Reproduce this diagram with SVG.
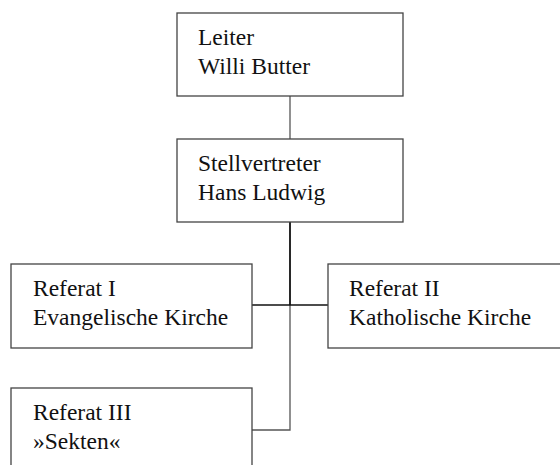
<svg xmlns="http://www.w3.org/2000/svg" width="560" height="465" viewBox="0 0 560 465">
<style>
.box{fill:#fff;stroke:#444;stroke-width:1.3}
.t{font-family:"Liberation Serif","Times New Roman",serif;font-size:23.5px;fill:#111}
.c{fill:none;stroke:#111;stroke-width:1.3}
</style>
<rect width="560" height="465" fill="#fff"/>
<g id="connectors">
<line class="c" x1="290" y1="96" x2="290" y2="139" style="stroke:#555"/>
<line class="c" x1="290" y1="222" x2="290" y2="305" style="stroke-width:1.8"/>
<polyline class="c" points="290,305 290,430 252,430" style="stroke:#555"/>
<line class="c" x1="252" y1="305" x2="328" y2="305"/>
</g>
<g id="leiter">
<rect class="box" x="177" y="13" width="226" height="83"/>
<text class="t" x="198" y="45">Leiter</text>
<text class="t" x="198" y="74">Willi Butter</text>
</g>
<g id="stellvertreter">
<rect class="box" x="177" y="139" width="226" height="83"/>
<text class="t" x="198" y="171">Stellvertreter</text>
<text class="t" x="198" y="200">Hans Ludwig</text>
</g>
<g id="referat1">
<rect class="box" x="11" y="264" width="241" height="84"/>
<text class="t" x="33" y="296">Referat I</text>
<text class="t" x="33" y="325">Evangelische Kirche</text>
</g>
<g id="referat2">
<rect class="box" x="328" y="264" width="250" height="84"/>
<text class="t" x="349" y="296">Referat II</text>
<text class="t" x="349" y="325">Katholische Kirche</text>
</g>
<g id="referat3">
<rect class="box" x="11" y="388" width="241" height="100"/>
<text class="t" x="33" y="420">Referat III</text>
<text class="t" x="33" y="449">»Sekten«</text>
</g>
</svg>
